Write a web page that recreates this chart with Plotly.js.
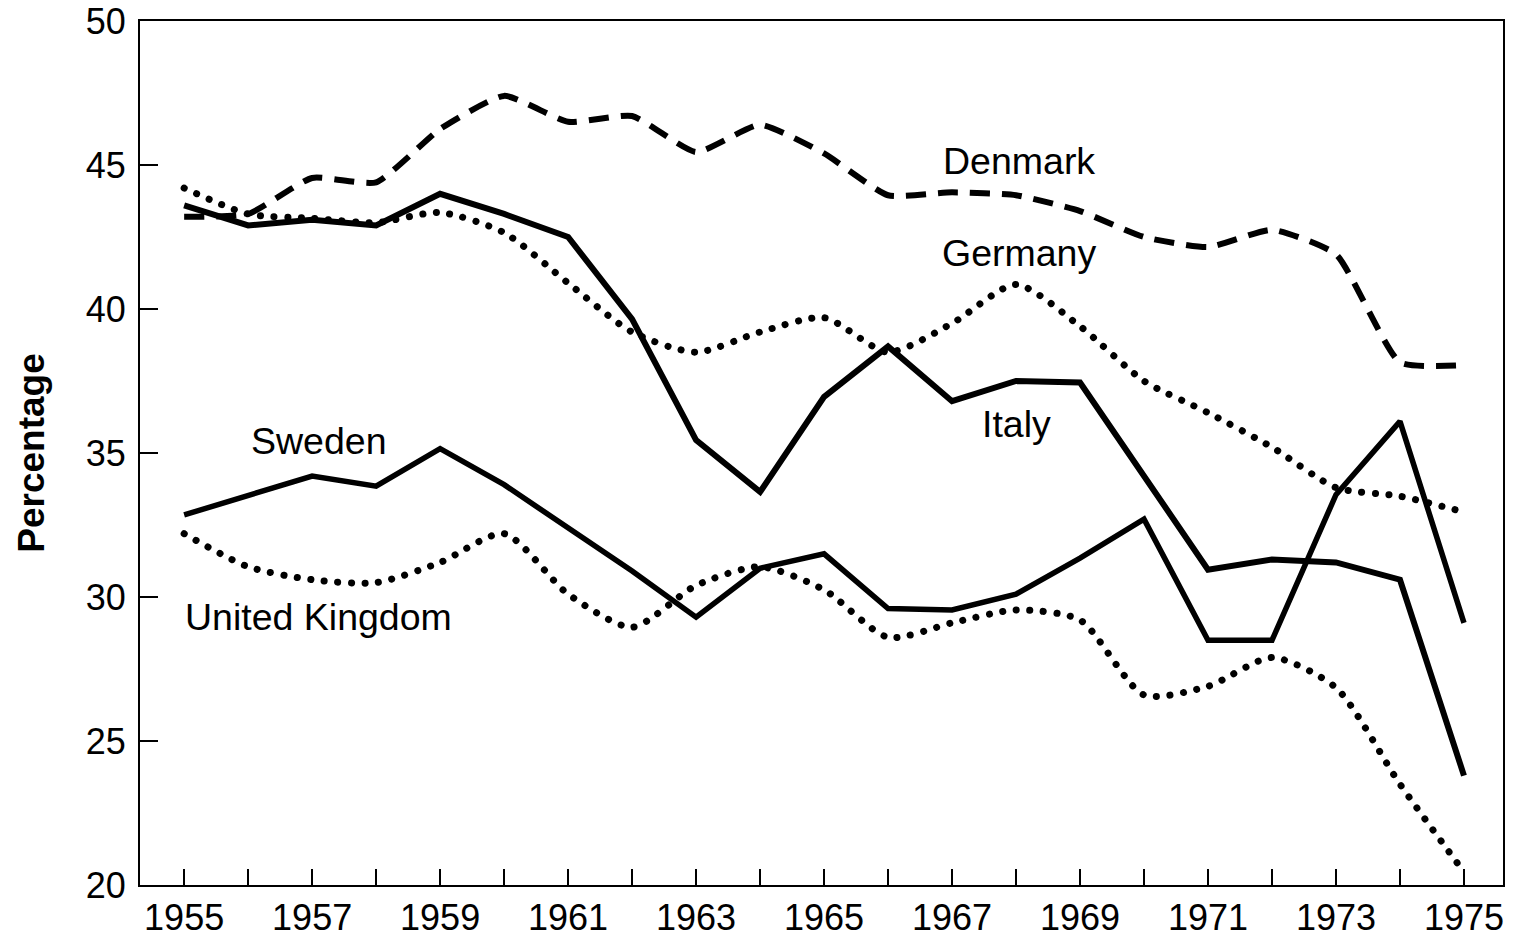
<!DOCTYPE html>
<html>
<head>
<meta charset="utf-8">
<script src="https://cdn.plot.ly/plotly-3.0.1.min.js"></script>
<style>
html, body { margin: 0; padding: 0; background: #fff; }
#chart { width: 1514px; height: 939px; }
.dotline .js-line { stroke-linecap: round; }
</style>
</head>
<body>
<div id="chart"></div>
<script>
const years = [1955,1956,1957,1958,1959,1960,1961,1962,1963,1964,1965,1966,1967,1968,1969,1970,1971,1972,1973,1974,1975];
const denmark = [43.2,43.3,44.55,44.4,46.25,47.4,46.5,46.7,45.45,46.4,45.4,43.95,44.05,43.95,43.4,42.5,42.15,42.75,41.9,38.15,38.05];
const germany = [44.2,43.3,43.15,43.0,43.35,42.65,40.9,39.2,38.5,39.2,39.7,38.5,39.5,40.85,39.4,37.5,36.4,35.2,33.8,33.5,32.95];
const italy   = [43.6,42.9,43.1,42.9,44.0,43.3,42.5,39.65,35.45,33.65,36.95,38.7,36.8,37.5,37.45,34.2,30.95,31.3,31.2,30.6,23.8];
const sweden  = [32.85,33.55,34.2,33.85,35.15,33.9,32.4,30.9,29.3,31.0,31.5,29.6,29.55,30.1,31.35,32.7,28.5,28.5,33.55,36.1,29.1];
const uk      = [32.2,31.05,30.6,30.5,31.2,32.2,30.1,28.95,30.4,31.05,30.25,28.6,29.1,29.55,29.2,26.6,26.9,27.9,26.85,23.5,20.45];
const yTicks = [20,25,30,35,40,45,50];
const xTickText = years.map(y => (y % 2 === 1) ? String(y) : '');

const labels = [
  {name:'Denmark', x:1968.05, y:45.15},
  {name:'Germany', x:1968.05, y:41.95},
  {name:'Italy', x:1968.0, y:36.0},
  {name:'Sweden', x:1957.1, y:35.4},
  {name:'United Kingdom', x:1957.1, y:29.3}
];

const dotStyle = {color:'#000', width:7, dash:'0.1px,13.5px', shape:'spline', smoothing:0.7};
const traces = [
  {x:years, y:denmark, name:'Denmark', mode:'lines', line:{color:'#000', width:6, dash:'20px,12px', shape:'spline', smoothing:0.5}},
  {x:years, y:germany, name:'Germany', mode:'lines', line:dotStyle},
  {x:years, y:italy, name:'Italy', mode:'lines', line:{color:'#000', width:6}},
  {x:years, y:sweden, name:'Sweden', mode:'lines', line:{color:'#000', width:5.5}},
  {x:years, y:uk, name:'United Kingdom', mode:'lines', line:dotStyle}
];

const fam = 'Liberation Sans, Arial, Helvetica, sans-serif';
const layout = {
  width:1514, height:939,
  margin:{l:140, r:11, t:21, b:54},
  paper_bgcolor:'#fff', plot_bgcolor:'#fff',
  showlegend:false,
  font:{family:fam, color:'#000'},
  xaxis:{
    range:[1954.31, 1975.61], tickvals:years, ticktext:xTickText,
    ticks:'inside', ticklen:16, tickwidth:1.5, tickcolor:'#000',
    showline:true, linewidth:2, linecolor:'#000', mirror:true,
    showgrid:false, zeroline:false,
    tickfont:{family:fam, size:36, color:'#000'}
  },
  yaxis:{
    range:[20,50], tickvals:yTicks,
    ticks:'inside', ticklen:18, tickwidth:1.5, tickcolor:'#000',
    showline:true, linewidth:2, linecolor:'#000', mirror:true,
    showgrid:false, zeroline:false, ticklabelstandoff:5,
    tickfont:{family:fam, size:36, color:'#000'},
    title:{text:'<b>Percentage</b>', font:{family:fam, size:37, color:'#000'}, standoff:30}
  },
  annotations: labels.map(l => ({
    x:l.x, y:l.y, xref:'x', yref:'y', text:l.name, showarrow:false,
    font:{family:fam, size:37.5, color:'#000'}, xanchor:'center', yanchor:'middle'
  }))
};

Plotly.newPlot('chart', traces, layout, {displayModeBar:false, staticPlot:true}).then(() => {
  const gs = document.querySelectorAll('.scatterlayer .trace');
  [1,4].forEach(i => { if (gs[i]) gs[i].classList.add('dotline'); });
});
</script>
</body>
</html>
